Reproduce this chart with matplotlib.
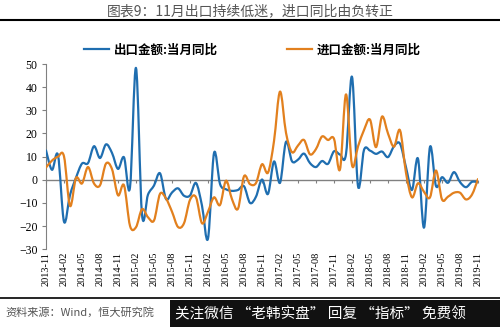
import matplotlib
matplotlib.use("Agg")
import matplotlib.pyplot as plt
from matplotlib.path import Path
from matplotlib.patches import PathPatch, Rectangle
from matplotlib.lines import Line2D

plt.rcParams['font.family'] = ['Noto Sans CJK SC', 'DejaVu Sans']

months = [f"{y}-{m:02d}" for y in range(2013, 2020) for m in range(1, 13)]
months = months[months.index("2013-11"):months.index("2019-11") + 1]

export_yoy = [12.7, 4.3, 10.6, -18.1, -6.6, 0.9, 7.0, 7.2, 14.5, 9.4, 15.3, 11.6,
              4.7, 9.7, -3.3, 48.3, -15.0, -6.4, -2.5, 2.8, -8.3, -5.5, -3.7, -6.9,
              -6.8, -1.4, -11.2, -25.4, 11.5, -1.8, -4.1, -4.8, -4.4, -2.8, -10.0, -7.3,
              0.1, -6.1, 7.9, -1.3, 16.4, 8.0, 8.7, 11.3, 7.2, 5.5, 8.1, 6.9,
              12.3, 10.9, 11.1, 44.5, -2.7, 12.9, 12.6, 11.2, 12.2, 9.8, 14.5, 15.6,
              5.4, -4.4, 9.1, -20.7, 14.2, -2.7, 1.1, -1.3, 3.3, -1.0, -3.2, -0.9,
              -1.1]
import_yoy = [5.3, 8.3, 10.0, 10.1, -11.3, 0.8, -1.6, 5.5, -1.6, -2.4, 7.0, 4.6,
              -6.7, -2.4, -19.9, -20.5, -12.7, -16.2, -17.6, -6.1, -8.1, -13.8, -20.4, -18.8,
              -8.7, -7.6, -18.8, -13.8, -7.6, -10.9, -0.4, -8.4, -12.5, 1.5, -1.9, -1.4,
              6.7, 3.1, 16.7, 38.1, 20.3, 11.9, 14.8, 17.2, 11.0, 13.3, 18.7, 17.2,
              17.7, 4.5, 36.9, 6.3, 14.4, 21.5, 26.0, 14.1, 27.3, 20.0, 14.3, 21.4,
              3.0, -7.6, -1.5, -5.2, -7.6, 4.0, -8.5, -7.3, -5.6, -5.6, -8.5, -6.4,
              0.3]
series_names = ["出口金额:当月同比", "进口金额:当月同比"]
colors = ["#1f6eb0", "#e2801e"]


def smooth_path(ys):
    # Excel-style smoothed line: cubic bezier through every data point
    n = len(ys)
    pts = list(zip(range(n), ys))
    verts = [pts[0]]
    codes = [Path.MOVETO]
    for i in range(n - 1):
        p0 = pts[max(i - 1, 0)]
        p1 = pts[i]
        p2 = pts[i + 1]
        p3 = pts[min(i + 2, n - 1)]
        c1 = (p1[0] + (p2[0] - p0[0]) / 6, p1[1] + (p2[1] - p0[1]) / 6)
        c2 = (p2[0] - (p3[0] - p1[0]) / 6, p2[1] - (p3[1] - p1[1]) / 6)
        verts += [c1, c2, p2]
        codes += [Path.CURVE4] * 3
    return Path(verts, codes)


fig = plt.figure(figsize=(5, 3.27), dpi=100)
ax = fig.add_axes([0.092, 0.238, 0.864, 0.566])

for ys, c in zip([export_yoy, import_yoy], colors):
    ax.add_patch(PathPatch(smooth_path(ys), facecolor='none', edgecolor=c, lw=1.6,
                           capstyle='round', joinstyle='round', zorder=3))

ax.axhline(0, color='#808080', lw=1.0, zorder=2)
ax.set_xlim(0, len(months) - 1)
ax.set_ylim(-30, 50)
ax.set_yticks(range(-30, 51, 10))
ax.set_xticks(range(0, len(months), 3))
ax.set_xticklabels(months[::3], rotation=90, family='Liberation Serif', fontsize=7.5)
ax.tick_params(axis='x', length=0, pad=2)
ax.tick_params(axis='y', direction='out', length=3, color='#808080', labelsize=8.5, pad=3)
for lab in ax.get_yticklabels():
    lab.set_family('Liberation Serif')
for s in ['top', 'right', 'bottom']:
    ax.spines[s].set_visible(False)
ax.spines['left'].set_color('#808080')

# small ticks sitting on the zero line
sec = ax.secondary_xaxis(30 / 80)
sec.set_xticks(range(0, len(months), 3))
sec.tick_params(axis='x', direction='out', length=2.5, color='#808080', labelbottom=False)
sec.spines['bottom'].set_visible(False)

handles = [Line2D([], [], color=c, lw=1.6) for c in colors]
fig.legend(handles, series_names, loc='center', bbox_to_anchor=(0.505, 0.847), ncol=2,
           frameon=False, handlelength=2.0, handletextpad=0.4, columnspacing=5.5,
           prop={'family': 'Noto Sans CJK SC', 'weight': 'bold', 'size': 9})

fig.text(0.5, 0.966, "图表9：11月出口持续低迷，进口同比由负转正", ha='center', va='center',
         fontsize=10, color='#555555')
fig.add_artist(Line2D([0, 1], [0.94, 0.94], color='black', lw=1.5, transform=fig.transFigure))
fig.add_artist(Line2D([0, 1], [0.088, 0.088], color='black', lw=1.2, transform=fig.transFigure))
fig.text(0.01, 0.045, "资料来源：Wind，恒大研究院", ha='left', va='center', fontsize=8,
         color='#555555', style='italic')

fig.add_artist(Rectangle((0.34, 0), 0.66, 0.082, transform=fig.transFigure,
                         facecolor='#111111', edgecolor='none', zorder=5))
fig.text(0.35, 0.04, "关注微信 “老韩实盘” 回复 “指标” 免费领", ha='left', va='center',
         fontsize=10.5, color='white', zorder=6)

fig.savefig("out.png", dpi=100)
